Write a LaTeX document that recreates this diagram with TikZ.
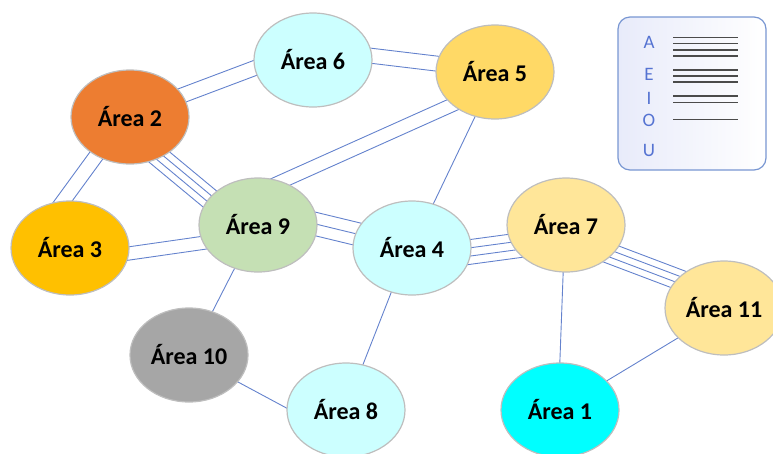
\documentclass[tikz,border=0pt]{standalone}
\usepackage{fontspec}
\setmainfont{Carlito}
\usetikzlibrary{calc,shapes.geometric}
\pgfdeclarelayer{background}
\pgfsetlayers{background,main}
\definecolor{edgeblue}{RGB}{100,130,205}
\definecolor{nodeborder}{RGB}{190,190,190}
\definecolor{cyanlight}{RGB}{204,255,255}
\definecolor{goldfill}{RGB}{255,217,102}
\definecolor{orangefill}{RGB}{237,125,49}
\definecolor{amberfill}{RGB}{255,192,0}
\definecolor{sagefill}{RGB}{197,224,180}
\definecolor{paleyellow}{RGB}{255,230,153}
\definecolor{greyfill}{RGB}{166,166,166}
\definecolor{aquafill}{RGB}{0,255,255}
\definecolor{legendframe}{RGB}{120,150,210}
\definecolor{legendshade}{RGB}{232,235,250}
\definecolor{letterblue}{RGB}{85,115,210}
\definecolor{legendline}{RGB}{75,75,75}
\tikzset{
  area/.style={ellipse, draw=nodeborder, line width=1.2pt, minimum width=118pt,
    minimum height=94pt, inner sep=0pt, font=\bfseries\fontsize{24}{24}\selectfont},
  edgeline/.style={draw=edgeblue, line width=0.9pt},
  letter/.style={text=letterblue, font=\fontsize{19}{19}\selectfont, inner sep=0pt},
  legline/.style={draw=legendline, line width=1.6pt}
}
% #1 node a, #2 shift in a, #3 node b, #4 shift in b, #5 number of lines, #6 spacing
\newcommand{\multiedge}[6]{%
  \coordinate (pa) at ([shift={#2}]#1.center);
  \coordinate (pb) at ([shift={#4}]#3.center);
  \foreach \k in {1,...,#5}{%
    \pgfmathsetmacro{\off}{(\k-(#5+1)/2)*#6}%
    \draw[edgeline] ($(pa)!\off pt!90:(pb)$) -- ($(pb)!\off pt!-90:(pa)$);
  }%
}
\begin{document}
\begin{tikzpicture}[x=1pt,y=-1pt]
\clip (0,0) rectangle (773,453);
\useasboundingbox (0,0) rectangle (773,453);

% nodes
\node[area, fill=cyanlight]  (n6)  at (313,60)  {Área 6};
\node[area, fill=goldfill]   (n5)  at (495,72)  {Área 5};
\node[area, fill=orangefill] (n2)  at (130,117) {Área 2};
\node[area, fill=amberfill]  (n3)  at (70,248)  {Área 3};
\node[area, fill=sagefill]   (n9)  at (258,225) {Área 9};
\node[area, fill=cyanlight]  (n4)  at (412,248) {Área 4};
\node[area, fill=paleyellow] (n7)  at (566,225) {Área 7};
\node[area, fill=paleyellow] (n11) at (724,308) {Área 11};
\node[area, fill=greyfill]   (n10) at (189,355) {Área 10};
\node[area, fill=cyanlight]  (n8)  at (346,410) {Área 8};
\node[area, fill=aquafill]   (n1)  at (560,410) {Área 1};

% connectors
\begin{pgfonlayer}{background}
\multiedge{n2}{(20,-9.5)}{n6}{(-13,-9)}{2}{15}
\multiedge{n6}{(27,-8)}{n5}{(-25,-4.4)}{2}{15}
\multiedge{n2}{(-15,13)}{n3}{(-28,-18)}{2}{14.5}
\multiedge{n3}{(30,9.6)}{n9}{(-28,14)}{2}{13.2}
\multiedge{n2}{(10,24)}{n9}{(-18,-1)}{4}{7}
\multiedge{n9}{(0,-33)}{n5}{(-5,16)}{2}{13.6}
\multiedge{n5}{(-12,28)}{n4}{(13.6,-28)}{1}{0}
\multiedge{n9}{(22,-9.6)}{n4}{(-22,-6)}{3}{11.5}
\multiedge{n4}{(28,8)}{n7}{(-26,17.5)}{4}{8.2}
\multiedge{n7}{(24,21)}{n11}{(-23,-20)}{4}{6.8}
\multiedge{n9}{(-14,25)}{n10}{(14,-25)}{1}{0}
\multiedge{n10}{(22,12.5)}{n8}{(-26,16)}{1}{0}
\multiedge{n4}{(-12,22)}{n8}{(7,-20)}{1}{0}
\multiedge{n7}{(-2,25)}{n1}{(-1,-25)}{1}{0}
\multiedge{n11}{(-23,16)}{n1}{(20,-13)}{1}{0}
\end{pgfonlayer}

% legend
\node[draw=legendframe, line width=1.2pt, rounded corners=12pt,
  left color=legendshade, right color=white, minimum width=148pt,
  minimum height=153pt, inner sep=0pt] (legend) at (692,93.5) {};
\node[letter] (la) at (649,42.7) {A};
\node[letter] (le) at (649,74.3) {E};
\node[letter] (li) at (649,98.3) {I};
\node[letter] (lo) at (649,120) {O};
\node[letter] (lu) at (649,150) {U};
\foreach \yy in {37.5,43.5,50,56,70,76,82,95.7,102.3,119.3}{
  \draw[legline] (673,\yy) -- (738,\yy);
}
\end{tikzpicture}
\end{document}
